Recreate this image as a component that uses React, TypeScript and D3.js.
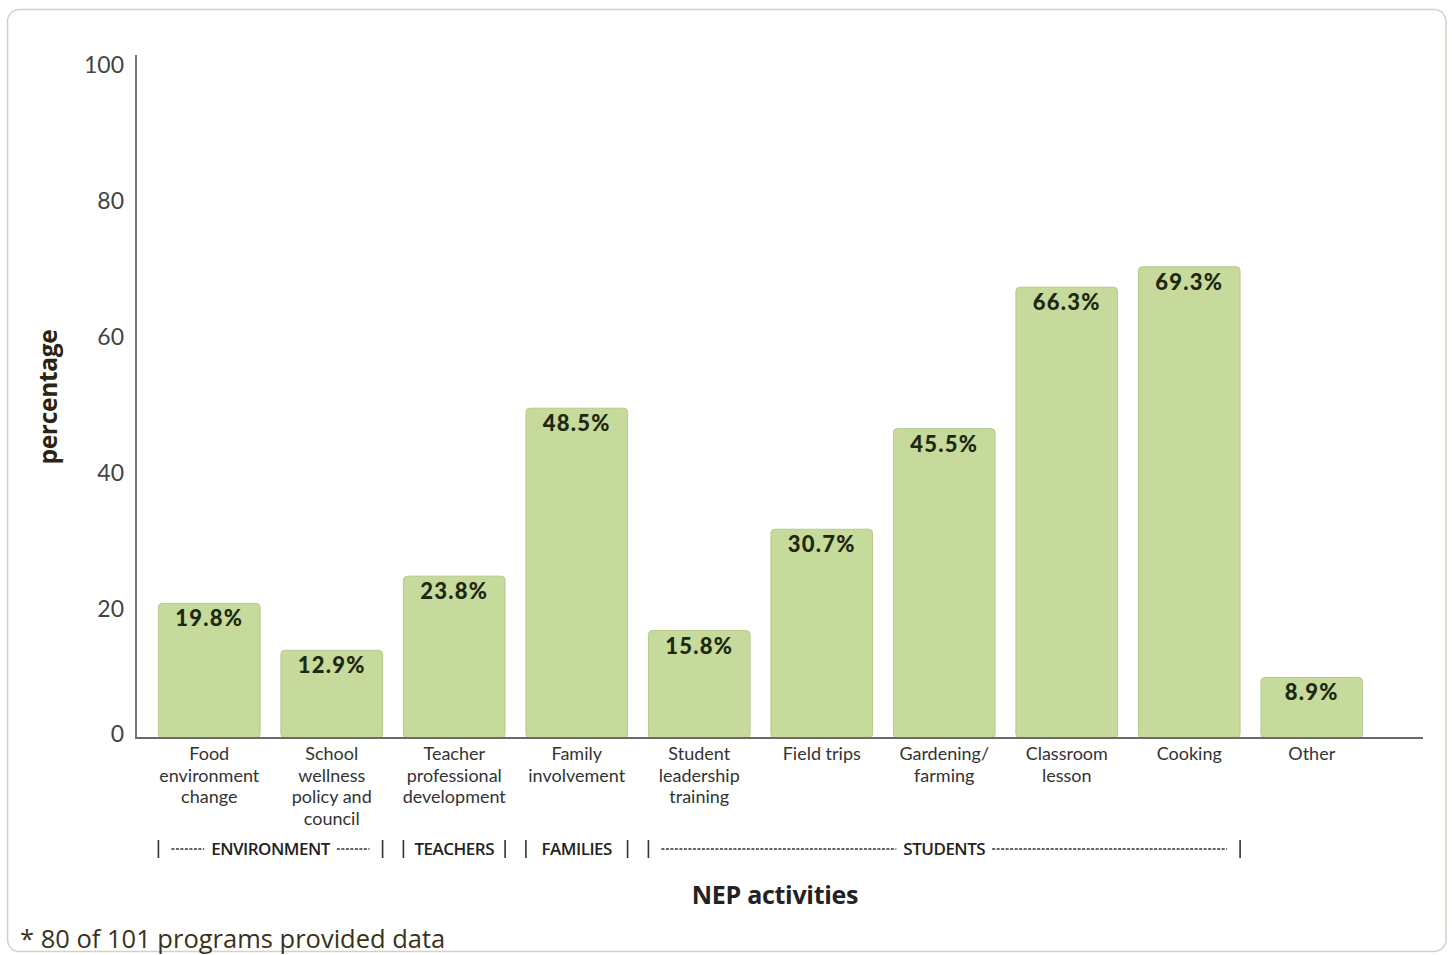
import React, { useEffect, useRef } from "react";
import * as d3 from "d3";

const categories: string[][] = [
  ["Food", "environment", "change"],
  ["School", "wellness", "policy and", "council"],
  ["Teacher", "professional", "development"],
  ["Family", "involvement"],
  ["Student", "leadership", "training"],
  ["Field trips"],
  ["Gardening/", "farming"],
  ["Classroom", "lesson"],
  ["Cooking"],
  ["Other"],
];
const values: number[] = [19.8, 12.9, 23.8, 48.5, 15.8, 30.7, 45.5, 66.3, 69.3, 8.9];
const yTicks: number[] = [0, 20, 40, 60, 80, 100];
const groupNames: string[] = ["ENVIRONMENT", "TEACHERS", "FAMILIES", "STUDENTS"];
const groupFrom: number[] = [0, 2, 3, 4];
const groupTo: number[] = [1, 2, 3, 8];
const groupDashed: boolean[] = [true, false, false, true];
const xTitle = "NEP activities";
const yTitle = "percentage";
const footnote = "* 80 of 101 programs provided data";

const W = 1452;
const H = 955;

export default function App() {
  const ref = useRef<SVGSVGElement | null>(null);

  useEffect(() => {
    const svg = d3.select(ref.current);
    svg.selectAll("*").remove();

    const font = "Lato, 'Open Sans', sans-serif";
    const ids = categories.map((_, i) => String(i));
    const x = d3
      .scaleBand<string>()
      .domain(ids)
      .range([148, 1373])
      .paddingInner(0.17)
      .paddingOuter(0.085);
    const y = d3.scaleLinear().domain([0, 100]).range([738, 58]);

    // outer frame
    svg
      .append("rect")
      .attr("x", 7.5)
      .attr("y", 9.5)
      .attr("width", 1438.5)
      .attr("height", 942)
      .attr("rx", 12)
      .attr("fill", "#fff")
      .attr("stroke", "#d8d0bf")
      .attr("stroke-width", 1.5);

    // bars
    svg
      .append("g")
      .selectAll("rect")
      .data(values)
      .join("rect")
      .attr("x", (_, i) => x(ids[i])!)
      .attr("y", (d) => y(d))
      .attr("width", x.bandwidth())
      .attr("height", (d) => y(0) - y(d))
      .attr("rx", 4)
      .attr("fill", "#c6da9b")
      .attr("stroke", "#b6ca8c")
      .attr("stroke-width", 1);

    // value labels
    svg
      .append("g")
      .selectAll("text")
      .data(values)
      .join("text")
      .attr("x", (_, i) => x(ids[i])! + x.bandwidth() / 2)
      .attr("y", (d) => y(d) + 23)
      .attr("text-anchor", "middle")
      .attr("font-family", font)
      .attr("font-weight", 900)
      .attr("font-size", 22)
      .attr("letter-spacing", 1.3)
      .attr("fill", "#1e2810")
      .text((d) => d.toFixed(1) + "%");

    // axes lines
    svg
      .append("line")
      .attr("x1", 136)
      .attr("x2", 136)
      .attr("y1", 55)
      .attr("y2", y(0))
      .attr("stroke", "#6a6a6a")
      .attr("stroke-width", 1.8);
    svg
      .append("line")
      .attr("x1", 135)
      .attr("x2", 1423)
      .attr("y1", y(0))
      .attr("y2", y(0))
      .attr("stroke", "#6a6a6a")
      .attr("stroke-width", 2);

    // y tick labels
    svg
      .append("g")
      .selectAll("text")
      .data(yTicks)
      .join("text")
      .attr("x", 124)
      .attr("y", (d) => (d === 0 ? y(d) - 5 : y(d) + 6))
      .attr("dominant-baseline", "central")
      .attr("text-anchor", "end")
      .attr("font-family", font)
      .attr("font-size", 23)
      .attr("fill", "#444")
      .text((d) => String(d));

    // category labels
    const cat = svg.append("g");
    categories.forEach((lines, i) => {
      const t = cat
        .append("text")
        .attr("text-anchor", "middle")
        .attr("font-family", font)
        .attr("font-size", 18)
        .attr("fill", "#333");
      lines.forEach((ln, j) => {
        t.append("tspan")
          .attr("x", x(ids[i])! + x.bandwidth() / 2)
          .attr("y", 760 + j * 21.7)
          .text(ln);
      });
    });

    // group labels
    const gy = 848;
    const grp = svg.append("g").attr("fill", "#222").attr("font-family", "'Open Sans', sans-serif");
    groupNames.forEach((name, k) => {
      const left = x(ids[groupFrom[k]])!;
      const right = x(ids[groupTo[k]])! + x.bandwidth();
      const cx = (left + right) / 2;
      [left, right].forEach((px) => {
        grp
          .append("line")
          .attr("x1", px)
          .attr("x2", px)
          .attr("y1", gy - 8)
          .attr("y2", gy + 10)
          .attr("stroke", "#333")
          .attr("stroke-width", 1.6);
      });
      const label = grp
        .append("text")
        .attr("x", cx)
        .attr("y", gy)
        .attr("dominant-baseline", "central")
        .attr("text-anchor", "middle")
        .attr("font-size", 17)
        .attr("font-weight", 600)
        .attr("letter-spacing", -0.5)
        .text(name);
      if (groupDashed[k]) {
        const tw = (label.node() as SVGTextElement).getComputedTextLength();
        const segs = [
          [left + 13, cx - tw / 2 - 7],
          [cx + tw / 2 + 7, right - 13],
        ];
        segs.forEach(([a, b]) => {
          grp
            .append("line")
            .attr("x1", a)
            .attr("x2", b)
            .attr("y1", gy + 1)
            .attr("y2", gy + 1)
            .attr("stroke", "#333")
            .attr("stroke-width", 1.3)
            .attr("stroke-dasharray", "3,1.5");
        });
      }
    });

    // axis titles
    svg
      .append("text")
      .attr("x", 775)
      .attr("y", 894)
      .attr("dominant-baseline", "central")
      .attr("text-anchor", "middle")
      .attr("font-family", "'Open Sans', sans-serif")
      .attr("font-weight", 700)
      .attr("font-size", 25)
      .attr("letter-spacing", -0.3)
      .attr("fill", "#222")
      .text(xTitle);
    svg
      .append("text")
      .attr("transform", "translate(47,397) rotate(-90)")
      .attr("dominant-baseline", "central")
      .attr("text-anchor", "middle")
      .attr("font-family", "'Open Sans', sans-serif")
      .attr("font-weight", 700)
      .attr("font-size", 24.5)
      .attr("letter-spacing", -0.3)
      .attr("fill", "#2a2410")
      .text(yTitle);

    // footnote
    svg
      .append("text")
      .attr("x", 20)
      .attr("y", 938)
      .attr("dominant-baseline", "central")
      .attr("font-family", "'Open Sans', sans-serif")
      .attr("font-size", 25.5)
      .attr("letter-spacing", 0)
      .attr("fill", "#3a3218")
      .text(footnote);
  }, []);

  return (
    <div style={{ position: "absolute", left: 0, top: 0, width: W, height: H, background: "#fff" }}>
      <svg ref={ref} width={W} height={H} style={{ display: "block" }} />
    </div>
  );
}
